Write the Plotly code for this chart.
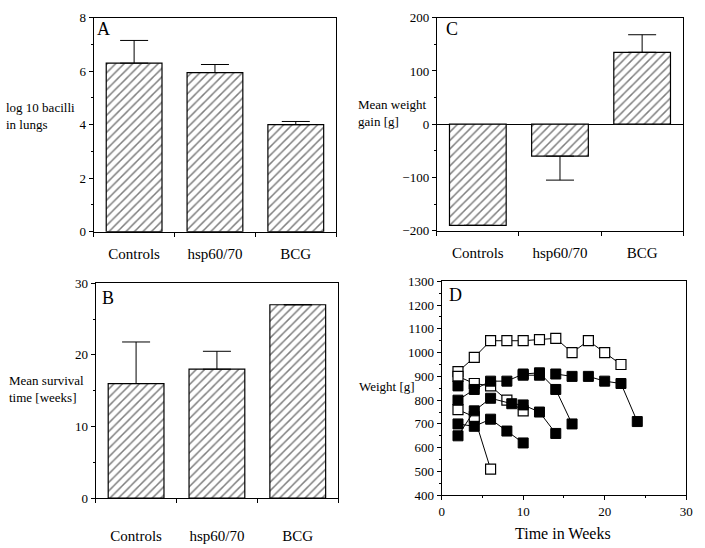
import plotly.graph_objects as go

W, H = 705, 548
FONT = "Times New Roman, Liberation Serif, serif"

groups = ["Controls", "hsp60/70", "BCG"]

# A: log10 bacilli in lungs
bacilli = [6.3, 5.95, 4.0]
bacilli_err = [0.85, 0.3, 0.12]

# B: mean survival time (weeks)
survival = [16.0, 18.0, 27.0]
survival_err = [5.8, 2.5, 0]

# C: mean weight gain (g)
gain = [-190, -60, 135]
gain_err_up = [0, 0, 33]
gain_err_down = [0, 45, 0]

# D: weight over time, open squares
open_weeks = [
    [2, 4, 6, 8, 10, 12, 14, 16, 18, 20, 22],
    [2, 4, 6, 8, 10],
    [2, 4, 6],
]
open_weights = [
    [920, 980, 1050, 1050, 1050, 1055, 1060, 1000, 1050, 1000, 950],
    [900, 870, 860, 800, 755],
    [760, 730, 510],
]
# D: filled squares (None = break in the line)
filled_weeks = [
    [2, 4, 6, 8, 10],
    [2, 4, 6, 8.6, 10, 12, 14],
    [2, 4, 6, 8, 10, 12, 14, 16],
    [2, None, 10, 12, None, 14, 16, None, 18, 20, 22, 24],
]
filled_weights = [
    [700, 690, 720, 670, 620],
    [650, 755, 808, 785, 780, 750, 660],
    [800, 845, 880, 880, 910, 915, 845, 700],
    [860, None, 905, 905, None, 910, 900, None, 900, 880, 870, 710],
]


def px_x(x0, x1):
    return [x0 / W, x1 / W]


def px_y(top, bottom):
    return [1 - bottom / H, 1 - top / H]


def hatched_bar(x, y, up, down, xa, ya):
    return go.Bar(
        x=x, y=y, xaxis=xa, yaxis=ya, width=0.69, showlegend=False,
        marker=dict(color="white", line=dict(color="black", width=1.2),
                    pattern=dict(shape="/", fgcolor="black", bgcolor="white",
                                 size=6, solidity=0.25)),
        error_y=dict(type="data", symmetric=False, array=up, arrayminus=down,
                     color="black", thickness=1, width=14),
    )


fig = go.Figure()

zeros = [0, 0, 0]
fig.add_trace(hatched_bar(groups, bacilli, bacilli_err, zeros, "x", "y"))
fig.add_trace(hatched_bar(groups, survival, survival_err, zeros, "x2", "y2"))
fig.add_trace(hatched_bar(groups, gain, gain_err_up, gain_err_down, "x3", "y3"))

for wx, wy in zip(open_weeks, open_weights):
    fig.add_trace(go.Scatter(
        x=wx, y=wy, xaxis="x4", yaxis="y4", mode="lines+markers", showlegend=False,
        line=dict(color="black", width=1),
        marker=dict(symbol="square", size=10, color="white",
                    line=dict(color="black", width=1.2))))
for wx, wy in zip(filled_weeks, filled_weights):
    fig.add_trace(go.Scatter(
        x=wx, y=wy, xaxis="x4", yaxis="y4", mode="lines+markers", showlegend=False,
        connectgaps=False,
        line=dict(color="black", width=1),
        marker=dict(symbol="square", size=10, color="black",
                    line=dict(color="black", width=1))))

tickfont = dict(family=FONT, size=13, color="black")
common = dict(showline=True, linecolor="black", linewidth=1, mirror=True,
              ticks="outside", ticklen=4, tickcolor="black", showgrid=False,
              zeroline=False, tickfont=tickfont)
catx = dict(common, type="category", range=[-0.5, 2.5], tickson="boundaries",
            tickfont=dict(family=FONT, size=15, color="black"))

fig.update_layout(
    width=W, height=H, margin=dict(l=0, r=0, t=0, b=0),
    paper_bgcolor="white", plot_bgcolor="white",
    font=dict(family=FONT, color="black"),
    xaxis=dict(catx, domain=px_x(92, 338), anchor="y", ticklabelstandoff=8),
    yaxis=dict(common, domain=px_y(11, 231), anchor="x", range=[0, 8], dtick=2,
               minor=dict(dtick=1, ticks="outside", ticklen=2, tickcolor="black")),
    xaxis2=dict(catx, domain=px_x(94, 340), anchor="y2", ticklabelstandoff=24),
    yaxis2=dict(common, domain=px_y(284, 505), anchor="x2", range=[0, 30], dtick=10,
                minor=dict(dtick=5, ticks="outside", ticklen=2, tickcolor="black")),
    xaxis3=dict(catx, domain=px_x(440, 690), anchor="y3", ticklabelstandoff=8),
    yaxis3=dict(common, domain=px_y(11, 230), anchor="x3", range=[-200, 200], dtick=100,
                zeroline=True, zerolinecolor="black", zerolinewidth=1,
                minor=dict(dtick=50, ticks="outside", ticklen=2, tickcolor="black")),
    xaxis4=dict(common, domain=px_x(445, 693), anchor="y4", range=[0, 30], dtick=10,
                minor=dict(dtick=5, ticks="outside", ticklen=2, tickcolor="black")),
    yaxis4=dict(common, domain=px_y(282, 502), anchor="x4", range=[400, 1300], dtick=100,
                minor=dict(dtick=50, ticks="outside", ticklen=2, tickcolor="black")),
)


def note(text, x, y, size=13, xanchor="left", yanchor="middle", align="left"):
    fig.add_annotation(text=text, x=x / W, y=1 - y / H, xref="paper", yref="paper",
                       showarrow=False, xanchor=xanchor, yanchor=yanchor, align=align,
                       font=dict(family=FONT, size=size, color="black"))


note("log 10 bacilli<br>in lungs", 1, 112)
note("Mean survival<br>time [weeks]", 4, 393)
note("Mean weight<br>gain [g]", 358, 109)
note("Weight [g]", 359, 390)
note("Time in Weeks", 568, 541, size=16, xanchor="center")

note("A", 93, 10, size=18, yanchor="top")
note("B", 98, 287, size=18, yanchor="top")
note("C", 447, 10, size=18, yanchor="top")
note("D", 450, 284, size=18, yanchor="top")

# page default margin would offset the figure
fig.write_html("out.html", config={"displayModeBar": False},
               post_script="document.body.style.margin='0';")
